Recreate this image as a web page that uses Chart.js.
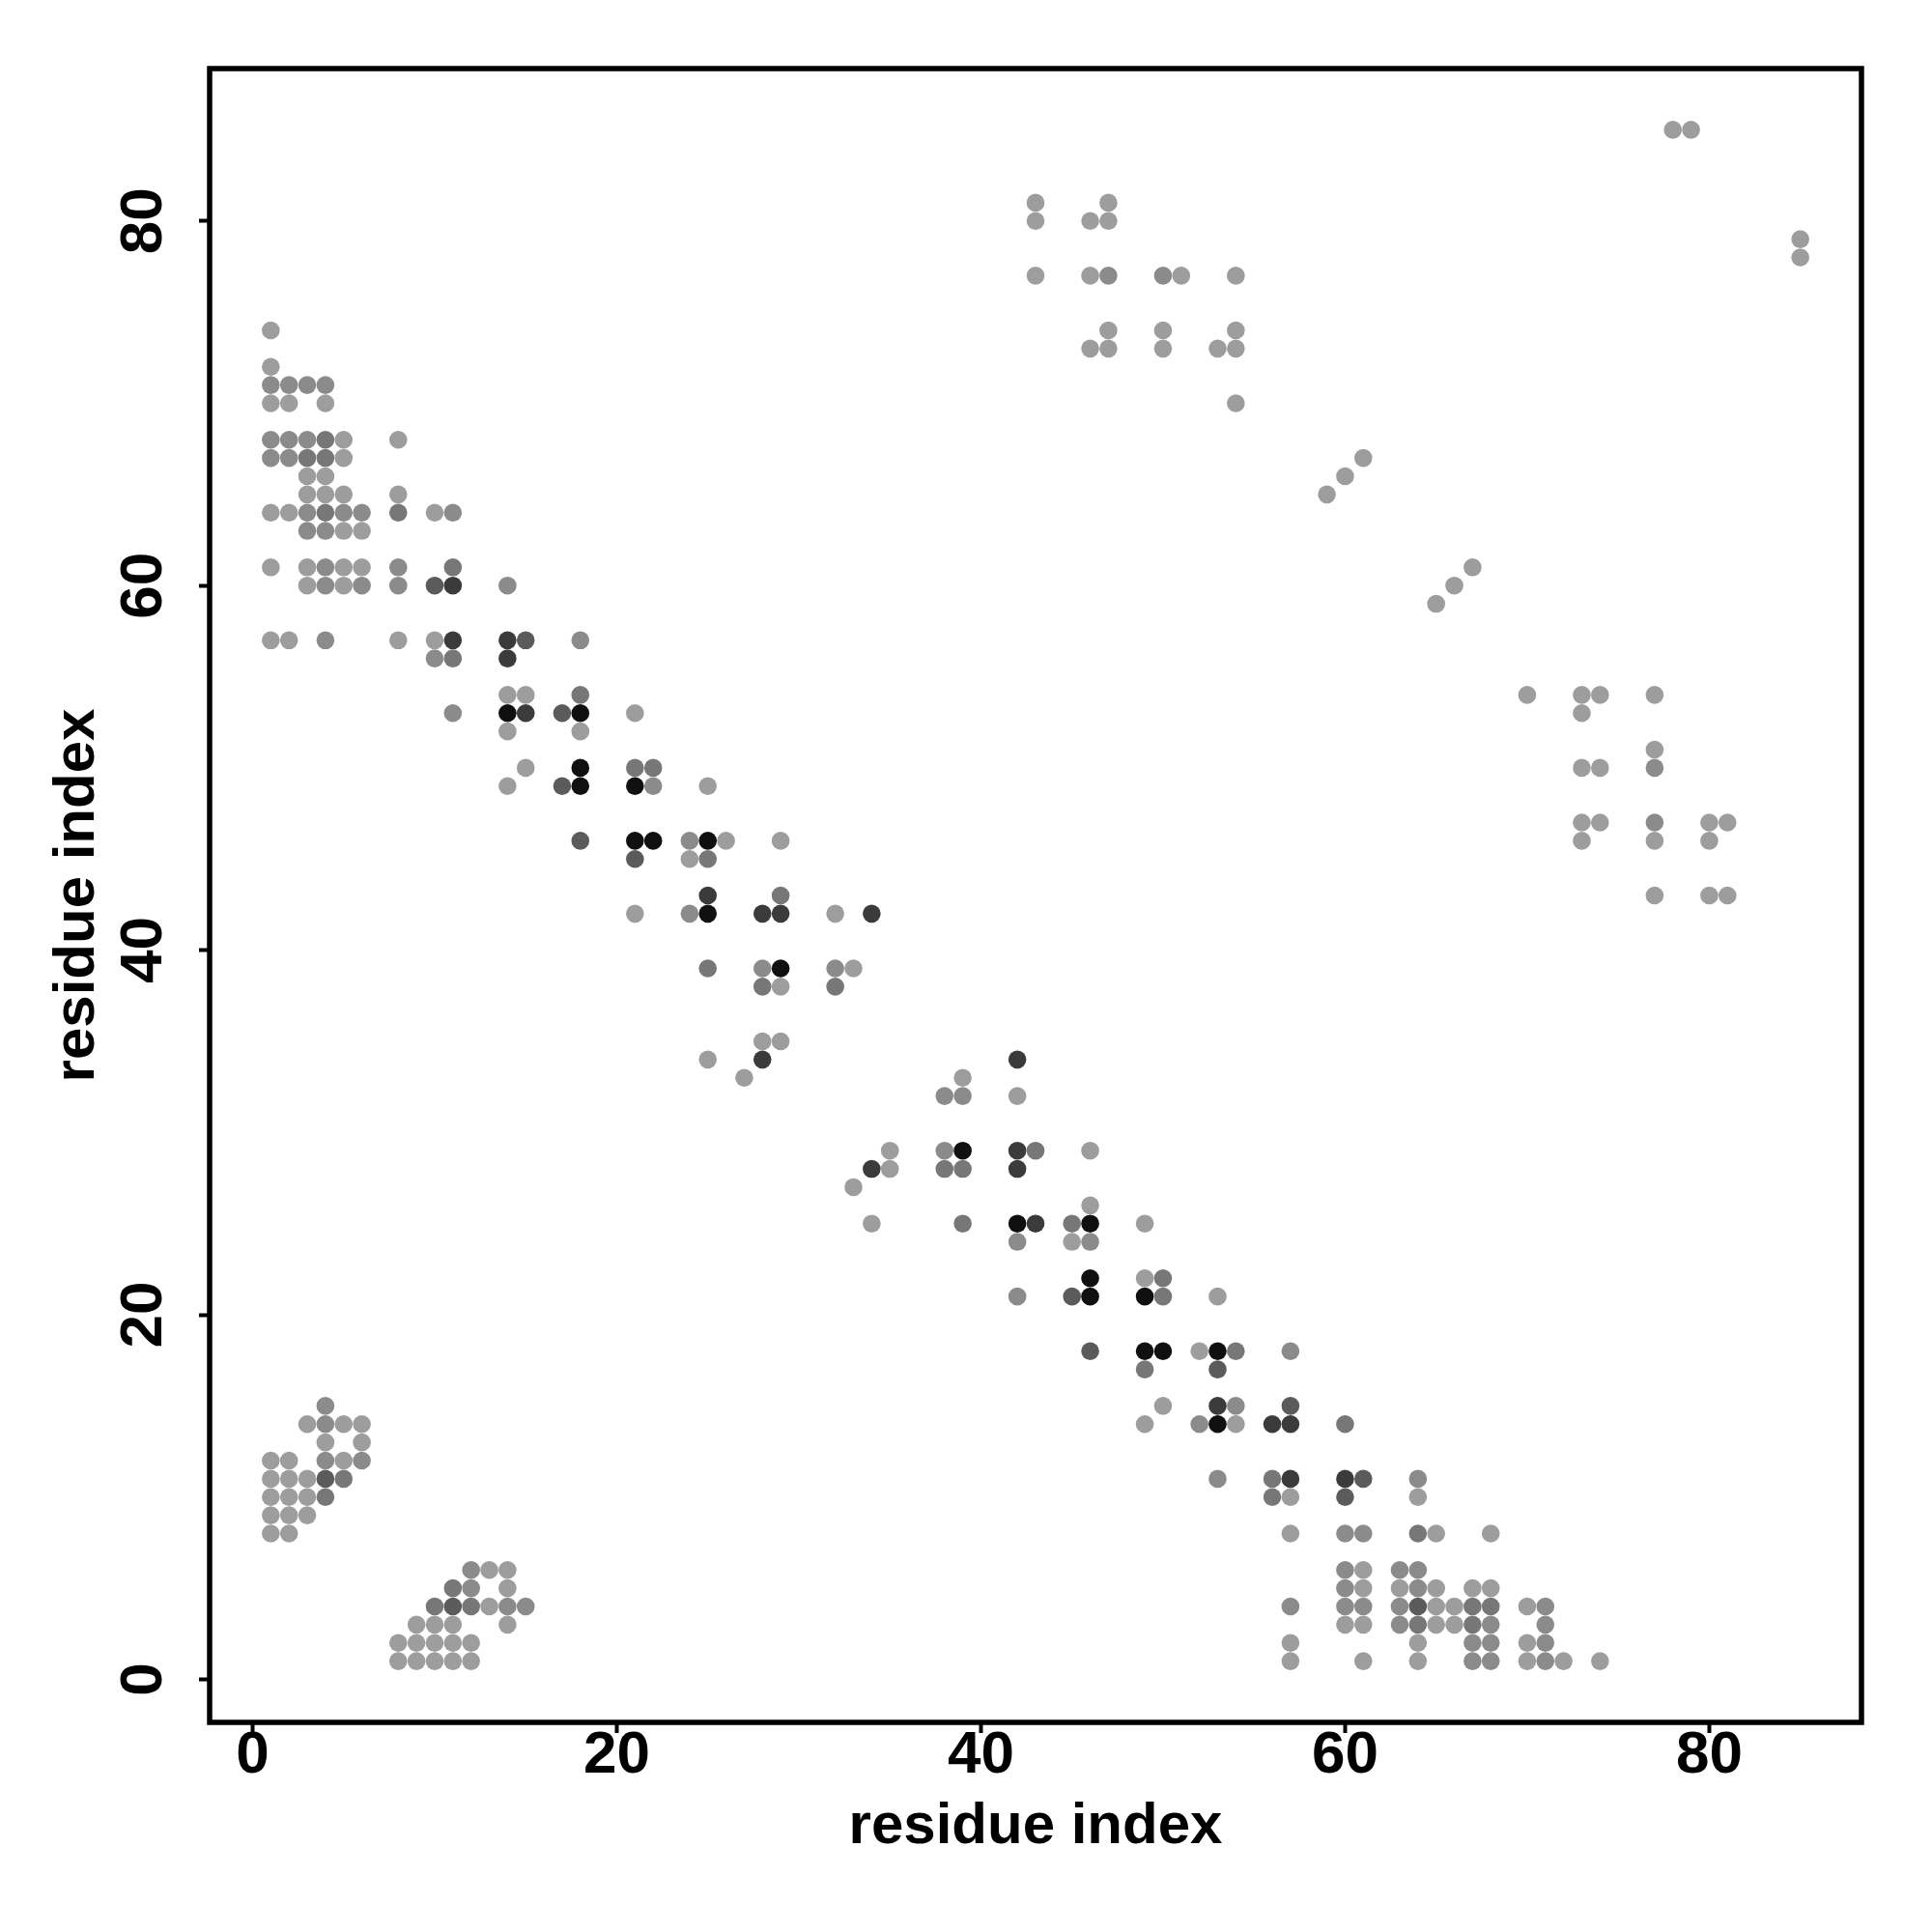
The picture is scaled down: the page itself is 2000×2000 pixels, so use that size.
<!DOCTYPE html>
<html><head><meta charset="utf-8">
<script src="https://cdn.jsdelivr.net/npm/chart.js@4/dist/chart.umd.min.js"></script>
<style>html,body{margin:0;padding:0;background:#fff}</style>
</head><body>
<canvas id="c" width="2000" height="2000" style="width:2000px;height:2000px;display:block"></canvas>
<script>
const axisTitle = 'residue index';
const tickValues = [0, 20, 40, 60, 80];
const axisMin = -2.36, axisMax = 88.36;

// residue index on the y axis (one entry per row of contacts)
const rowResidues = [85,81,80,79,78,77,74,73,72,71,70,68,67,66,65,64,63,61,60,59,57,56,54,53,52,51,50,49,47,46,45,43,42,39,38,35,34,33,32,29,28,27,26,25,24,22,21,18,17,15,14,13,12,11,10,9,8,6,5,4,3,2,1];
// partner residue index on the x axis for each row
const partnerResidues = [
  [78,79],[43,47],[43,46,47],[85],[85],
  [43,46,47,50,51,54],
  [1,47,50,54],
  [46,47,50,53,54],
  [1],
  [1,2,3,4],
  [1,2,4,54],
  [1,2,3,4,5,8],
  [1,2,3,4,5,61],
  [3,4,60],
  [3,4,5,8,59],
  [1,2,3,4,5,6,8,10,11],
  [3,4,5,6],
  [1,3,4,5,6,8,11,67],
  [3,4,5,6,8,10,11,14,66],
  [65],
  [1,2,4,8,10,11,14,15,18],
  [10,11,14],
  [14,15,18,70,73,74,77],
  [11,14,15,17,18,21,73],
  [14,18],
  [77],
  [15,18,21,22,73,74,77],
  [14,17,18,21,22,25],
  [73,74,77,80,81],
  [18,21,22,24,25,26,29,73,77,80],
  [21,24,25],
  [25,29,77,80,81],
  [21,24,25,28,29,32,34],
  [25,28,29,32,33],
  [28,29,32],
  [28,29],
  [25,28,42],
  [27,39],
  [38,39,42],
  [35,38,39,42,43,46],
  [34,35,38,39,42],
  [33],
  [46],
  [34,39,42,43,45,46,49],
  [42,45,46],
  [46,49,50],
  [42,45,46,49,50,53],
  [46,49,50,52,53,54,57],
  [49,53],
  [4,50,53,54,57],
  [3,4,5,6,49,52,53,54,56,57,60],
  [4,6],
  [1,2,4,5,6],
  [1,2,3,4,5,53,56,57,60,61,64],
  [1,2,3,4,56,57,60,64],
  [1,2,3],
  [1,2,57,60,61,64,65,68],
  [12,13,14,60,61,63,64],
  [11,12,14,60,61,63,64,65,67,68],
  [10,11,12,13,14,15,57,60,61,63,64,65,66,67,68,70,71],
  [9,10,11,14,60,61,63,64,65,66,67,68,71],
  [8,9,10,11,12,57,64,67,68,70,71],
  [8,9,10,11,12,57,61,64,67,68,70,71,72,74]
];
// contact strength level (1 = weakest / lightest, 6 = strongest / darkest)
const contactLevels = [
  [1,1],[1,1],[1,1,1],[1],[1],
  [1,1,2,2,1,1],
  [1,1,1,1],
  [1,1,1,1,1],
  [1],
  [2,2,2,2],
  [1,1,1,1],
  [2,2,2,3,1,1],
  [2,2,3,3,1,1],
  [1,1,1],
  [1,1,1,1,1],
  [1,1,2,3,2,2,3,1,2],
  [2,2,1,1],
  [1,1,2,1,1,2,3,1],
  [1,2,1,2,2,4,5,2,1],
  [1],
  [1,1,2,1,1,5,5,4,2],
  [2,3,5],
  [1,1,3,1,1,1,1],
  [2,6,5,4,6,1,1],
  [1,1],
  [1],
  [1,6,3,3,1,1,2],
  [1,4,6,6,2,1],
  [1,1,2,1,1],
  [4,6,6,2,6,1,1,1,1,1],
  [4,1,3],
  [5,3,1,1,1],
  [1,2,6,5,5,1,5],
  [3,2,6,2,1],
  [3,1,3],
  [1,1],
  [1,5,5],
  [1,1],
  [2,2,1],
  [1,2,6,5,3,1],
  [5,1,3,3,5],
  [1],
  [1],
  [1,3,6,5,3,6,1],
  [2,1,2],
  [6,1,3],
  [2,4,6,6,3,1],
  [4,6,6,1,6,3,2],
  [3,4],
  [2,1,5,2,4],
  [1,2,1,1,1,2,6,1,5,5,3],
  [1,1],
  [1,1,2,1,2],
  [1,1,1,4,3,2,3,5,5,4,2],
  [1,1,1,3,3,1,4,1],
  [1,1,1],
  [1,1,1,2,2,3,1,1],
  [2,1,1,2,1,2,2],
  [3,2,1,2,1,1,2,1,1,1],
  [3,4,3,1,2,2,2,2,2,2,4,1,1,3,3,1,2],
  [1,1,1,1,1,1,2,3,1,1,3,2,2],
  [1,1,1,1,1,1,1,2,2,1,2],
  [1,1,1,1,1,1,1,1,2,2,1,2,1,1]
];
const levelColors = ['#9d9d9d', '#8b8b8b', '#777777', '#5b5b5b', '#3b3b3b', '#101010'];

const points = [], colors = [];
rowResidues.forEach((y, i) => {
  partnerResidues[i].forEach((x, k) => {
    points.push({ x: x, y: y });
    colors.push(levelColors[contactLevels[i][k] - 1]);
  });
});

const boxPlugin = {
  id: 'box',
  afterDraw(chart) {
    const { ctx, chartArea: a } = chart;
    ctx.save();
    ctx.strokeStyle = '#000';
    ctx.lineWidth = 5.5;
    ctx.strokeRect(a.left, a.top, a.right - a.left, a.bottom - a.top);
    ctx.restore();
  }
};

const fam = '"Liberation Sans", Arial, Helvetica, sans-serif';
const tickFont = { family: fam, weight: 'bold', size: 62, lineHeight: 0.8 };
const titleFont = { family: fam, weight: 'bold', size: 60, lineHeight: 1.2 };
const setTicks = s => { s.ticks = tickValues.map(v => ({ value: v })); };

new Chart(document.getElementById('c'), {
  type: 'scatter',
  data: {
    datasets: [{
      data: points,
      backgroundColor: colors,
      borderColor: colors,
      borderWidth: 0,
      pointRadius: 9.3,
      pointHoverRadius: 9.3
    }]
  },
  options: {
    responsive: false,
    animation: false,
    devicePixelRatio: 1,
    layout: { padding: { top: 71, right: 73, left: 0, bottom: 0 } },
    plugins: { legend: { display: false }, tooltip: { enabled: false } },
    scales: {
      x: {
        type: 'linear', position: 'bottom', min: axisMin, max: axisMax,
        afterBuildTicks: setTicks,
        afterFit: s => { s.height = 217; },
        ticks: { font: tickFont, color: '#000', padding: -1, minRotation: 0, maxRotation: 0, autoSkip: false },
        grid: { display: true, drawOnChartArea: false, drawTicks: true, tickLength: 11, tickWidth: 4, tickColor: '#000', color: '#000' },
        border: { display: false },
        title: { display: true, text: axisTitle, font: titleFont, color: '#000', padding: { top: 0, bottom: 73 } }
      },
      y: {
        type: 'linear', position: 'left', min: axisMin, max: axisMax,
        afterBuildTicks: setTicks,
        afterFit: s => { s.width = 217; },
        ticks: { font: tickFont, color: '#000', padding: 22, minRotation: 90, maxRotation: 90, crossAlign: 'center', autoSkip: false },
        grid: { display: true, drawOnChartArea: false, drawTicks: true, tickLength: 11, tickWidth: 4, tickColor: '#000', color: '#000' },
        border: { display: false },
        title: { display: true, text: axisTitle, font: titleFont, color: '#000', padding: { top: 44, bottom: 0 } }
      }
    }
  },
  plugins: [boxPlugin]
});
</script>
</body></html>
